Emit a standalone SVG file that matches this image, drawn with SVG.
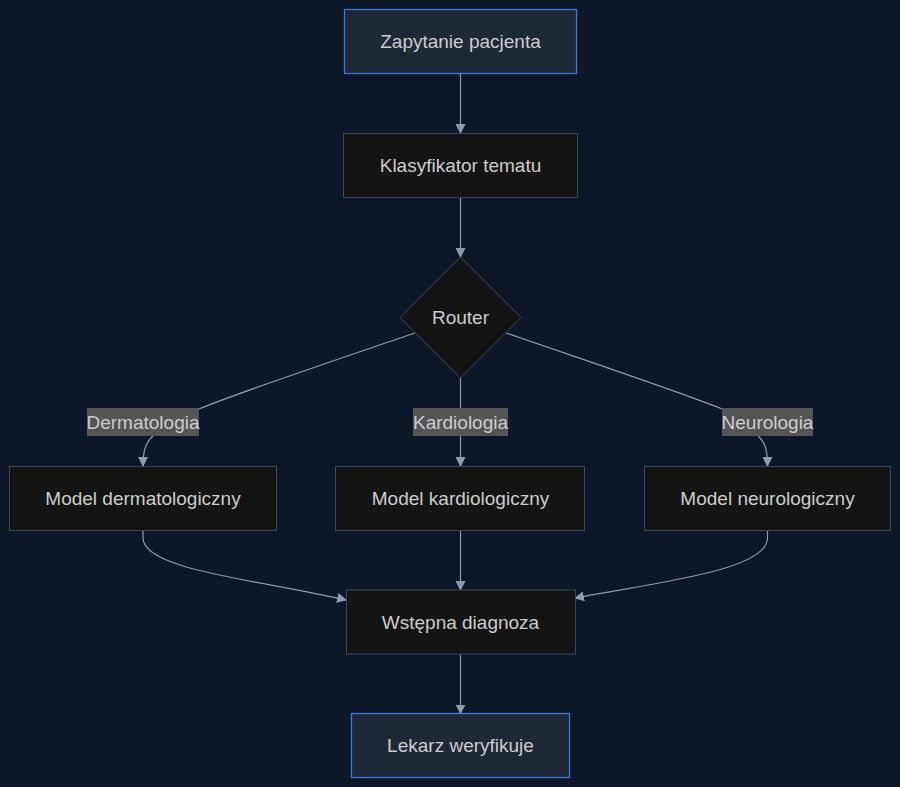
<svg xmlns="http://www.w3.org/2000/svg" width="900" height="787" viewBox="0 0 900 787">
<defs>
<marker id="arr" viewBox="0 0 10 10" refX="9" refY="5" markerWidth="10" markerHeight="10" markerUnits="userSpaceOnUse" orient="auto">
<path d="M0,0 L10,5 L0,10 z" fill="#8d9bb3"/>
</marker>
<style>
.bg{fill:#0e1729}
.n{fill:#141414;stroke:#3b4658;stroke-width:1}
.hl{fill:#1f2836;stroke:#3b7ddb;stroke-width:1.3}
.t{font-family:"Liberation Sans",Arial,sans-serif;font-size:19px;fill:#cccccc;text-anchor:middle;dominant-baseline:central}
.lt{font-family:"Liberation Sans",Arial,sans-serif;font-size:19px;fill:#cccccc;text-anchor:middle;dominant-baseline:central}
.lb{fill:#555555}
.e{fill:none;stroke:#8d9bb3;stroke-width:1.2;marker-end:url(#arr)}
</style>
</defs>
<rect class="bg" x="0" y="0" width="900" height="787"/>
<g id="connectors">
<path class="e" d="M460.5,73.5 L460.5,133"/>
<path class="e" d="M460.5,197.5 L460.5,257"/>
<path class="e" d="M415,333 C330,362 240,392 199,409 M153,436 C146,442 143,450 143,466"/>
<path class="e" d="M460.5,378 L460.5,466"/>
<path class="e" d="M506,333 C590,362 680,392 722,409 M758,436 C765,442 767.5,450 767.5,466"/>
<path class="e" d="M143,530.5 L143,538 C143,570 260,580 346,600"/>
<path class="e" d="M460.5,530.5 L460.5,590"/>
<path class="e" d="M767.5,530.5 L767.5,538 C767.5,570 660,582 575,598"/>
<path class="e" d="M460.5,654.5 L460.5,713.5"/>
</g>
<g id="edge-labels">
<g id="lbl-derm"><rect class="lb" x="87" y="408" width="112" height="28"/><text class="lt" x="143" y="422">Dermatologia</text></g>
<g id="lbl-kard"><rect class="lb" x="413" y="408" width="95" height="28"/><text class="lt" x="460.5" y="422">Kardiologia</text></g>
<g id="lbl-neuro"><rect class="lb" x="722" y="408" width="91" height="28"/><text class="lt" x="767.5" y="422">Neurologia</text></g>
</g>
<g id="node-zapytanie"><rect class="hl" x="344.5" y="9.5" width="232" height="64"/><text class="t" x="460.5" y="41.5">Zapytanie pacjenta</text></g>
<g id="node-klasyfikator"><rect class="n" x="343.5" y="133.5" width="234" height="64"/><text class="t" x="460.5" y="165.5">Klasyfikator tematu</text></g>
<g id="node-router"><polygon class="n" points="460.5,257 521,317.5 460.5,378 400,317.5"/><text class="t" x="460.5" y="317.5">Router</text></g>
<g id="node-derm"><rect class="n" x="9.5" y="466.5" width="267" height="64"/><text class="t" x="143" y="498.5">Model dermatologiczny</text></g>
<g id="node-kard"><rect class="n" x="335.5" y="466.5" width="249" height="64"/><text class="t" x="460.5" y="498.5">Model kardiologiczny</text></g>
<g id="node-neuro"><rect class="n" x="644.5" y="466.5" width="246" height="64"/><text class="t" x="767.5" y="498.5">Model neurologiczny</text></g>
<g id="node-diagnoza"><rect class="n" x="346.5" y="590" width="229" height="64"/><text class="t" x="460.5" y="622">Wstępna diagnoza</text></g>
<g id="node-lekarz"><rect class="hl" x="351.5" y="713.5" width="218" height="64"/><text class="t" x="460.5" y="745.5">Lekarz weryfikuje</text></g>
</svg>
